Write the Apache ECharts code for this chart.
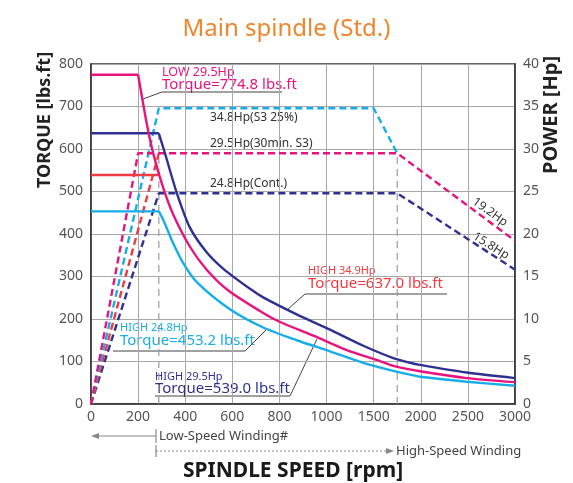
<!DOCTYPE html>
<html><head><meta charset="utf-8">
<script src="https://cdn.jsdelivr.net/npm/echarts@6/dist/echarts.min.js"></script>
<style>html,body{margin:0;padding:0;background:#fff}#c{width:573px;height:483px}</style>
</head><body><div id="c"></div>
<script>
// ---- data ----
const tickRpm = [0, 200, 400, 600, 800, 1000, 1500, 2000, 2500, 3000];
const tickLabels = ['0', '200', '400', '600', '800', '1000', '1500', '2000', '2500', '3000'];

// torque curves (lbs.ft)
const navyFlatRpm = [0, 288];
const navyFlatTorque = [637, 637];
const navyRpm = [288, 314, 364, 420, 491, 562, 675, 731, 873, 1036, 1390, 1708, 1886, 1992, 2488, 3000];
const navyTorque = [637, 590, 497, 415, 357, 318, 271, 251, 211, 175, 137, 108, 97, 92, 74, 61];

const pinkFlatRpm = [0, 200];
const pinkFlatTorque = [774.8, 774.8];
const pinkRpm = [200, 236, 265, 307, 349, 420, 491, 583, 731, 802, 944, 1214, 1567, 1719, 1992, 2488, 3000];
const pinkTorque = [774.8, 662, 588, 508, 446, 370, 316, 267, 214, 193, 161, 127, 101, 89, 77, 61, 51.5];

const redFlatRpm = [0, 288];
const redFlatTorque = [539, 539];

const cyanFlatRpm = [0, 288];
const cyanFlatTorque = [453.2, 453.2];
const cyanRpm = [288, 307, 349, 392, 449, 590, 731, 873, 1036, 1390, 1708, 1886, 1992, 2488, 3000];
const cyanTorque = [453.2, 433, 378, 331, 287, 223, 180, 150, 124, 97, 78, 69, 64, 52.5, 43];

// power curves (Hp)
const pinkPowRpm = [0, 200, 1750, 3000];
const pinkPow = [0, 29.5, 29.5, 19.2];
const redPowRpm = [0, 288];
const redPow = [0, 29.5];
const cyanPowRpm = [0, 288, 1500, 1750];
const cyanPow = [0, 34.8, 34.8, 29.5];
const navyPowRpm = [0, 288, 1750, 3000];
const navyPow = [0, 24.8, 24.8, 15.8];

// ---- helpers ----
function pos(r) {
  for (let i = 0; i < tickRpm.length - 1; i++) {
    if (r <= tickRpm[i + 1]) return i + (r - tickRpm[i]) / (tickRpm[i + 1] - tickRpm[i]);
  }
  return tickRpm.length - 1;
}
function pts(rs, vs) { return rs.map((r, i) => [pos(r), vs[i]]); }

const NAVY = '#2f3192', PINK = '#e8137d', CYAN = '#16aee8', RED = '#ef3a3f';
const FONT = '"Noto Sans", sans-serif';

function solid(data, color, smooth) {
  return { type: 'line', yAxisIndex: 0, data, symbol: 'none', smooth: smooth ? 0.25 : false,
    lineStyle: { color, width: 2.4 }, z: 5, silent: true };
}
function dashed(data, color) {
  return { type: 'line', yAxisIndex: 1, data, symbol: 'none',
    lineStyle: { color, width: 2.4, type: [7, 4] }, z: 4, silent: true };
}
function vguide(data, axis) {
  return { type: 'line', yAxisIndex: axis, data, symbol: 'none',
    lineStyle: { color: '#9a9a9a', width: 1.2, type: [7, 5] }, z: 3, silent: true };
}

const chart = echarts.init(document.getElementById('c'), null, { renderer: 'canvas' });

function txt(text, x, y, size, color, opts) {
  return Object.assign({ type: 'text', x, y, silent: true,
    style: { text, fill: color, font: (opts && opts.weight ? opts.weight + ' ' : '') + size + 'px ' + FONT,
      textAlign: (opts && opts.align) || 'left', textVerticalAlign: 'middle' } },
    opts && opts.rotation !== undefined ? { rotation: opts.rotation } : {});
}
function seg(x1, y1, x2, y2, color, w, dash) {
  return { type: 'line', silent: true, shape: { x1, y1, x2, y2 },
    style: { stroke: color, lineWidth: w || 1, lineDash: dash || null } };
}

const option = {
  animation: false,
  title: { text: 'Main spindle (Std.)', left: 'center', top: 12,
    textStyle: { color: '#f0862c', fontSize: 24, fontWeight: 'normal', fontFamily: FONT } },
  grid: { left: 91, right: 58, top: 64, bottom: 79, show: true, borderColor: '#333', borderWidth: 1.5 },
  xAxis: { type: 'value', min: 0, max: 9, interval: 1,
    axisLine: { show: true, lineStyle: { color: '#333', width: 1.5 } }, axisTick: { show: false },
    axisLabel: { formatter: v => tickLabels[Math.round(v)], color: '#555', fontSize: 14, fontFamily: FONT, margin: 6 },
    splitLine: { show: true, lineStyle: { color: '#a8a8a8', width: 1 } } },
  yAxis: [
    { type: 'value', min: 0, max: 800, interval: 100,
      axisLine: { show: true, lineStyle: { color: '#333', width: 1.5 } }, axisTick: { show: false },
      axisLabel: { color: '#555', fontSize: 14, fontFamily: FONT, margin: 8 },
      splitLine: { show: true, lineStyle: { color: '#a8a8a8', width: 1 } } },
    { type: 'value', min: 0, max: 40, interval: 5, position: 'right',
      axisLine: { show: true, lineStyle: { color: '#333', width: 1.5 } }, axisTick: { show: false },
      axisLabel: { color: '#555', fontSize: 14, fontFamily: FONT, margin: 8 },
      splitLine: { show: false } }
  ],
  series: [
    vguide([[pos(288), 0], [pos(288), 637]], 0),
    vguide([[pos(1750), 0], [pos(1750), 29.5]], 1),
    dashed(pts(navyPowRpm, navyPow), NAVY),
    dashed(pts(redPowRpm, redPow), RED),
    dashed(pts(cyanPowRpm, cyanPow), CYAN),
    dashed(pts(pinkPowRpm, pinkPow), PINK),
    solid(pts(redFlatRpm, redFlatTorque), RED, false),
    solid(pts(cyanFlatRpm, cyanFlatTorque), CYAN, false),
    solid(pts(cyanRpm, cyanTorque), CYAN, true),
    solid(pts(navyFlatRpm, navyFlatTorque), NAVY, false),
    solid(pts(navyRpm, navyTorque), NAVY, true),
    solid(pts(pinkFlatRpm, pinkFlatTorque), PINK, false),
    solid(pts(pinkRpm, pinkTorque), PINK, true)
  ],
  graphic: [
    txt('TORQUE [lbs.ft]', 45, 120, 18, '#222', { align: 'center', rotation: Math.PI / 2, weight: 'bold' }),
    txt('POWER [Hp]', 551, 115, 20, '#222', { align: 'center', rotation: Math.PI / 2, weight: 'bold' }),

    txt('LOW 29.5Hp', 162, 72, 12.5, PINK),
    txt('Torque=774.8 lbs.ft', 162, 85, 15, PINK),
    seg(162, 92, 282, 92, '#444', 1), seg(162, 92, 143, 99, '#444', 1),

    txt('34.8Hp(S3 25%)', 210, 118, 12, '#333'),
    txt('29.5Hp(30min. S3)', 210, 144, 12, '#333'),
    txt('24.8Hp(Cont.)', 210, 184, 12, '#333'),
    txt('19.2Hp', 490, 212, 12, '#333', { align: 'center', rotation: -0.62 }),
    txt('15.8Hp', 491, 246, 12, '#333', { align: 'center', rotation: -0.56 }),

    txt('HIGH 34.9Hp', 308, 271, 11, RED),
    txt('Torque=637.0 lbs.ft', 308, 284, 15, RED),
    seg(305, 294, 447, 294, '#444', 1), seg(305, 294, 287, 310, '#444', 1),

    txt('HIGH 24.8Hp', 120, 328, 11, CYAN),
    txt('Torque=453.2 lbs.ft', 120, 341, 15, CYAN),
    seg(113, 351, 245, 351, '#444', 1), seg(245, 351, 266, 330, '#444', 1),

    txt('HIGH 29.5Hp', 155, 377, 11, NAVY),
    txt('Torque=539.0 lbs.ft', 155, 389, 15, NAVY),
    seg(155, 396, 290, 396, '#444', 1), seg(290, 396, 317, 339, '#444', 1),

    seg(97, 436, 156, 436, '#888', 1.2), seg(156, 429, 156, 443, '#888', 1.2),
    { type: 'polygon', silent: true, shape: { points: [[91, 436], [99, 433], [99, 439]] }, style: { fill: '#888' } },
    txt('Low-Speed Winding#', 159, 436, 13, '#444'),
    seg(156, 451, 388, 451, '#999', 1.2, [2, 2]), seg(156, 445, 156, 457, '#888', 1.2),
    { type: 'polygon', silent: true, shape: { points: [[394, 451], [386, 448], [386, 454]] }, style: { fill: '#888' } },
    txt('High-Speed Winding', 396, 451, 13, '#444'),
    txt('SPINDLE SPEED [rpm]', 293, 471, 21, '#1a1a1a', { align: 'center', weight: 'bold' })
  ]
};
chart.setOption(option);
</script></body></html>
